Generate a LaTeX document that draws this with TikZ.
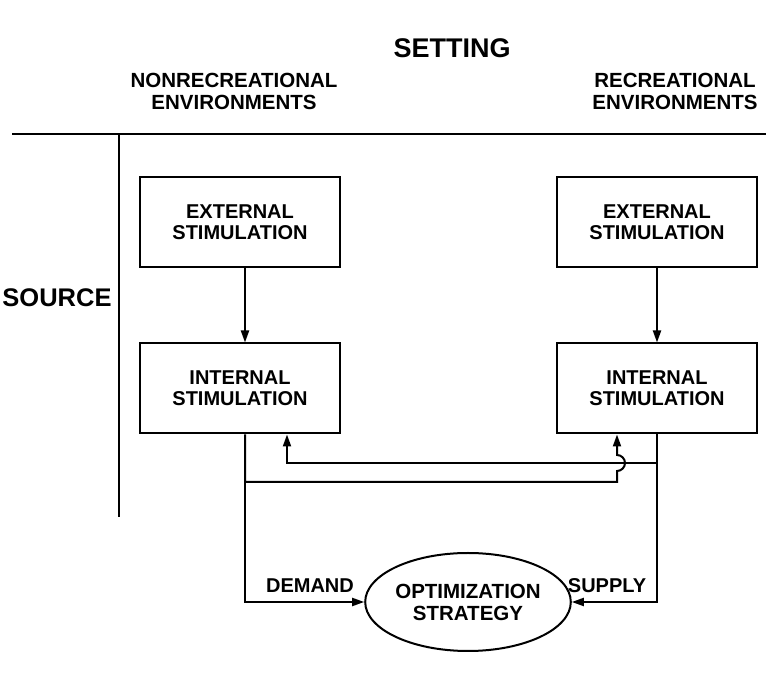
\documentclass[tikz,border=0pt]{standalone}
\usepackage{fontspec}
\setmainfont{Liberation Sans}
\usetikzlibrary{arrows.meta,shapes.geometric}
\begin{document}
\begin{tikzpicture}[x=1pt,y=1pt,
  lbl/.style={font=\bfseries\fontsize{20}{21}\selectfont, align=center, inner sep=0pt},
  hdr/.style={font=\bfseries\fontsize{20.5}{22}\selectfont, align=center, inner sep=0pt},
  big/.style={font=\bfseries\fontsize{25.5}{28}\selectfont, inner sep=0pt},
  ln/.style={line width=2pt},
  stim/.style={draw, ln, lbl, minimum width=200pt, minimum height=90pt},
  arr/.style={ln, -{Triangle[length=12pt,width=8pt]}}]
\useasboundingbox (0,0) rectangle (766,674);
% headings
\node[big, font=\bfseries\fontsize{27}{30}\selectfont] (set) at (452,626) {SETTING};
\node[hdr] (nonrec) at (234,582.5) {NONRECREATIONAL\\ENVIRONMENTS};
\node[hdr] (rec) at (675,582.5) {RECREATIONAL\\ENVIRONMENTS};
\node[big] (src) at (57,376) {SOURCE};
% frame lines
\coordinate (h1) at (12,540);
\coordinate (h2) at (766,540);
\coordinate (v1) at (119,540);
\coordinate (v2) at (119,157);
\draw[ln] (h1) -- (h2);
\draw[ln] (v1) -- (v2);
% boxes
\node[stim] (le) at (240,451.5) {EXTERNAL\\STIMULATION};
\node[stim] (li) at (240,285.5) {INTERNAL\\STIMULATION};
\node[stim] (re) at (657,451.5) {EXTERNAL\\STIMULATION};
\node[stim] (ri) at (657,285.5) {INTERNAL\\STIMULATION};
\node[draw, ln, ellipse, lbl, font=\bfseries\fontsize{20.5}{22}\selectfont, minimum width=196pt, minimum height=98pt] (opt) at (468,72) {OPTIMIZATION\\STRATEGY};
% labels
\node[lbl] (dem) at (310,88) {DEMAND};
\node[lbl] (sup) at (607,88) {SUPPLY};
% connectors
\coordinate (ax) at (245,0);
\draw[arr] (le.south -| ax) -- (li.north -| ax);
\draw[arr] (re) -- (ri);
\coordinate (rb) at (657,211);
\coordinate (lb) at (287,211);
\coordinate (lc) at (245,192);
\coordinate (hc) at (617,192);
\coordinate (ld) at (245,72);
\coordinate (rd) at (657,72);
\draw[arr] (ri.south) -- (rb) -- (lb) -- (li.south -| lb);
\draw[arr] (li.south -| ax) -- (lc) -- (hc) -- ++(0,11) arc[start angle=-90,end angle=90,radius=8] -- (ri.south -| hc);
\draw[arr] (lc) -- (ld) -- (opt.west);
\draw[arr] (rb) -- (rd) -- (opt.east);
\end{tikzpicture}
\end{document}
